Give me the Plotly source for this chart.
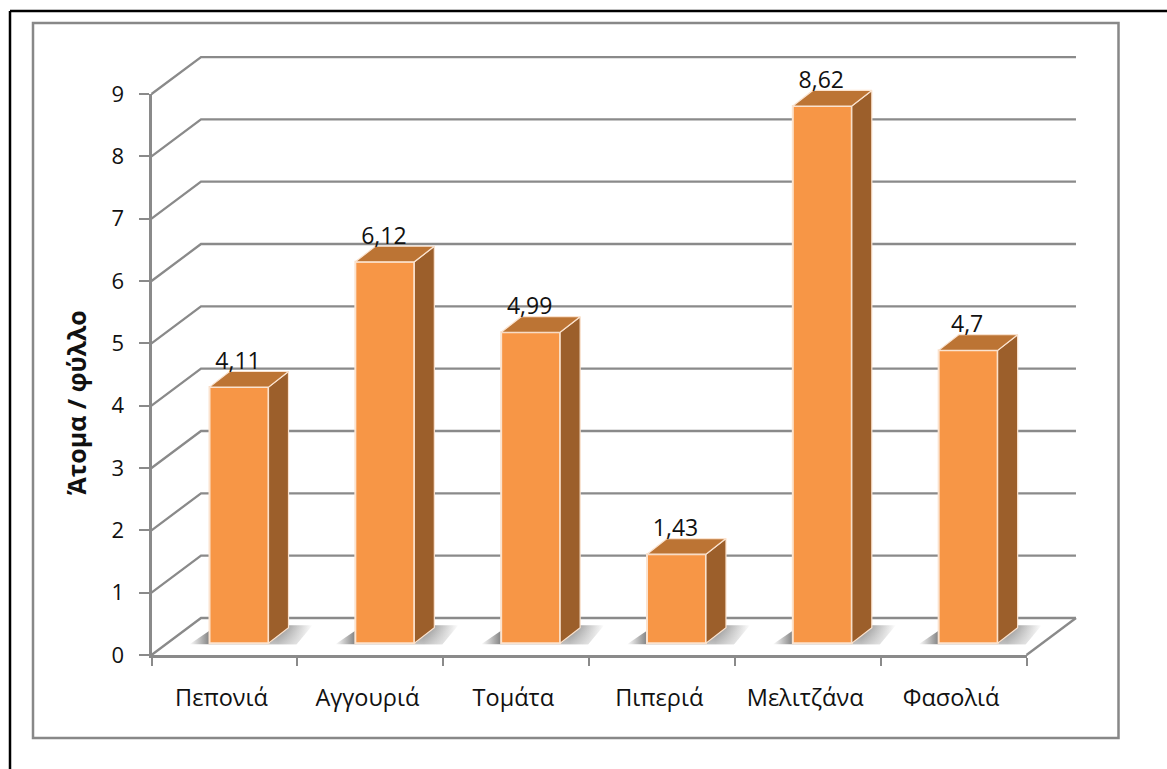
import plotly.graph_objects as go

categories = ["Πεπονιά", "Αγγουριά", "Τομάτα", "Πιπεριά", "Μελιτζάνα", "Φασολιά"]
values = [4.11, 6.12, 4.99, 1.43, 8.62, 4.7]
labels = ["4,11", "6,12", "4,99", "1,43", "8,62", "4,7"]
y_ticks = [0, 1, 2, 3, 4, 5, 6, 7, 8, 9]
y_title = "Άτομα / φύλλο"

W, H = 1167, 769
X0, Y0 = 151.5, 655
PX, PY = 145.83, 62.33
DEPTH_X, DEPTH_Y = 49.5 / PX, 37 / PY
BAR_LEFT, BAR_W, BASE = 58 / PX, 59 / PX, 11.7 / PY
SIDE_X, SIDE_Y = 20 / PX, 15.6 / PY
GRID = "#8a8a8a"
FRONT, SIDE, TOP = "#F79646", "#9C5F2B", "#BC7434"
EDGE = "#FBE3CF"
FONT = "Open Sans"
common = dict(cliponaxis=False, showlegend=False, hoverinfo="skip")

fig = go.Figure()

# real axes need a trace to be drawn
fig.add_trace(go.Scatter(x=[0], y=[0], mode="none", showlegend=False, hoverinfo="skip"))

# back wall and floor (page-sized subplot x2/y2)
for v in y_ticks:
    fig.add_trace(go.Scatter(
        x=[0, DEPTH_X, 6 + DEPTH_X], y=[v, v + DEPTH_Y, v + DEPTH_Y],
        mode="lines", line=dict(color=GRID, width=2.3), xaxis="x2", yaxis="y2", **common))
fig.add_trace(go.Scatter(
    x=[6, 6 + DEPTH_X], y=[0, DEPTH_Y], mode="lines",
    line=dict(color=GRID, width=2.3), xaxis="x2", yaxis="y2", **common))

# floor shadows: a horizontal fade, softened towards the front by a white vertical fade
for i in range(len(values)):
    x0 = i + BAR_LEFT
    sx = [x0 - 20 / PX, x0 + BAR_W + 28 / PX, x0 + BAR_W + 44 / PX, x0 + 8 / PX]
    sy = [BASE - 1 / PY, BASE - 1 / PY, BASE + 18 / PY, BASE + 18 / PY]
    fig.add_trace(go.Scatter(
        x=sx, y=sy, mode="lines", line=dict(width=0), fill="toself",
        fillgradient=dict(type="horizontal", colorscale=[
            [0, "rgba(125,125,125,0)"], [0.16, "rgba(125,125,125,0.95)"],
            [0.72, "rgba(125,125,125,0.95)"], [1, "rgba(125,125,125,0)"]]),
        xaxis="x2", yaxis="y2", **common))
    fig.add_trace(go.Scatter(
        x=[x0 + BAR_W, x0 + BAR_W + 28 / PX, x0 + BAR_W + 44 / PX, x0 + BAR_W + 22 / PX],
        y=sy, mode="lines", line=dict(width=0), fill="toself",
        fillgradient=dict(type="vertical", colorscale=[
            [0, "rgba(255,255,255,0.5)"], [1, "rgba(255,255,255,0)"]]),
        xaxis="x2", yaxis="y2", **common))

# bars (page-sized subplot x3/y3, above the grid)
fig.add_trace(go.Bar(
    x=[i + BAR_LEFT + BAR_W / 2 for i in range(len(values))], y=values, base=BASE,
    width=BAR_W, marker=dict(color=FRONT, line=dict(color=EDGE, width=2)),
    xaxis="x3", yaxis="y3", **common))
for i, v in enumerate(values):
    x0, x1 = i + BAR_LEFT, i + BAR_LEFT + BAR_W
    top = v + BASE
    fig.add_trace(go.Scatter(
        x=[x1, x1 + SIDE_X, x1 + SIDE_X, x1, x1], y=[BASE, BASE + SIDE_Y, top + SIDE_Y, top, BASE],
        mode="lines", fill="toself", fillcolor=SIDE, line=dict(color=EDGE, width=1.2),
        xaxis="x3", yaxis="y3", **common))
    fig.add_trace(go.Scatter(
        x=[x0, x1, x1 + SIDE_X, x0 + SIDE_X, x0], y=[top, top, top + SIDE_Y, top + SIDE_Y, top],
        mode="lines", fill="toself", fillcolor=TOP, line=dict(color=EDGE, width=1.2),
        xaxis="x3", yaxis="y3", **common))

fig.add_trace(go.Scatter(
    x=[i + BAR_LEFT + BAR_W / 2 - 1 / PX for i in range(len(values))],
    y=[v + BASE + 24 / PY for v in values],
    text=labels, mode="text", textposition="middle center",
    textfont=dict(family=FONT, size=23, color="#111111"),
    xaxis="x3", yaxis="y3", **common))

page_x = dict(domain=[0, 1], range=[-X0 / PX, (W - X0) / PX], visible=False)
page_y = dict(domain=[0, 1], range=[-(H - Y0) / PY, Y0 / PY], visible=False)

fig.update_layout(
    width=W, height=H, margin=dict(l=0, r=0, t=0, b=0, autoexpand=False),
    paper_bgcolor="white", plot_bgcolor="rgba(0,0,0,0)", barmode="overlay",
    font=dict(family=FONT, color="#111111"),
    xaxis=dict(domain=[X0 / W, 1027 / W], range=[0, 6], tickmode="array",
               tickvals=[i + 0.5 - 3 / PX for i in range(6)], ticktext=categories,
               ticks="", ticklabelstandoff=20, tickfont=dict(size=23.5, color="#111111"),
               showgrid=False, zeroline=False, showline=True, linecolor=GRID, linewidth=3,
               minor=dict(tickmode="array", tickvals=[0, 1, 2, 3, 4, 5, 6], ticks="outside",
                          ticklen=8, tickwidth=2, tickcolor=GRID, showgrid=False)),
    yaxis=dict(domain=[(H - Y0) / H, (H - 94) / H], range=[0, 9], tickmode="array", tickvals=y_ticks,
               ticks="outside", ticklen=10, tickwidth=2, tickcolor=GRID,
               ticklabelstandoff=10, tickfont=dict(size=22, color="#111111"),
               showgrid=False, zeroline=False, showline=True, linecolor=GRID, linewidth=3),
    xaxis2=dict(anchor="y2", **page_x), yaxis2=dict(anchor="x2", **page_y),
    xaxis3=dict(anchor="y3", **page_x), yaxis3=dict(anchor="x3", **page_y),
    shapes=[
        dict(type="line", xref="paper", yref="paper", x0=10 / W, x1=10 / W, y0=0, y1=1 - 11 / H,
             line=dict(color="black", width=2.5)),
        dict(type="line", xref="paper", yref="paper", x0=10 / W, x1=1, y0=1 - 11 / H, y1=1 - 11 / H,
             line=dict(color="black", width=2.5)),
        dict(type="rect", xref="paper", yref="paper", x0=33 / W, x1=1118.5 / W,
             y0=1 - 738 / H, y1=1 - 23 / H, line=dict(color="#888888", width=2.5)),
    ],
    annotations=[dict(text="<b>" + y_title + "</b>", textangle=-90, xref="paper", yref="paper",
                      x=76 / W, y=1 - 403 / H, xanchor="center", yanchor="middle", showarrow=False,
                      font=dict(family=FONT, size=25, color="#111111"))],
)

fig.write_html("out.html", config=dict(displayModeBar=False),
               post_script="document.body.style.margin='0';document.body.style.overflow='hidden';")
